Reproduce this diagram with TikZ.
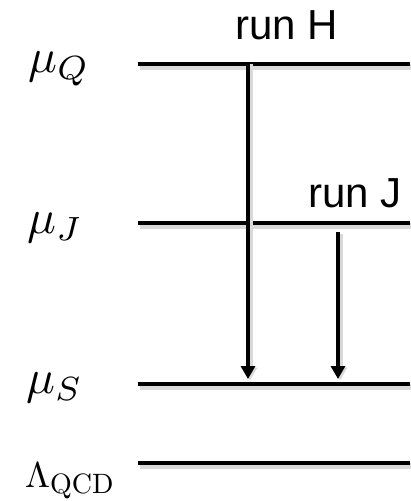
\RequirePackage{fix-cm}
\documentclass[tikz,border=0pt]{standalone}
\usepackage{graphicx}
\usepackage{fontspec}
\newfontfamily\runfont{Liberation Sans}
\usetikzlibrary{arrows.meta}
\begin{document}
\begin{tikzpicture}[x=1pt,y=-1pt,
  level/.style={line width=4.5pt,
    preaction={draw=black!15, line width=6pt, transform canvas={shift={(1.5pt,-2.5pt)}}}},
  runarrow/.style={line width=4.5pt, -{Triangle[width=14pt,length=13pt]},
    preaction={draw=black!15, line width=6pt, transform canvas={shift={(2pt,-1.5pt)}}}},
  mulbl/.style={anchor=base west, inner sep=0pt},
  runlbl/.style={anchor=base west, inner sep=0pt, font=\runfont\fontsize{42}{50}\selectfont}]
\useasboundingbox (0,0) rectangle (410,501);
% level lines
\coordinate (Ql) at (138,64);  \coordinate (Qr) at (410,64);
\coordinate (Jl) at (138,223); \coordinate (Jr) at (410,223);
\coordinate (Sl) at (138,384); \coordinate (Sr) at (410,384);
\coordinate (Ll) at (138,463); \coordinate (Lr) at (410,463);
\draw[level] (Ql) -- (Qr);
\draw[level] (Jl) -- (Jr);
\draw[level] (Sl) -- (Sr);
\draw[level] (Ll) -- (Lr);
% arrows
\coordinate (Hs) at (248,62); \coordinate (He) at (248,379);
\coordinate (Js) at (338,232); \coordinate (Je) at (338,379);
\draw[runarrow] (Hs) -- (He);
\draw[runarrow] (Js) -- (Je);
% labels
\node[mulbl] (muQ) at (28,72) {\scalebox{4.8}{$\mu_Q$}};
\node[mulbl] (muJ) at (27,233) {\scalebox{4.8}{$\mu_J$}};
\node[mulbl] (muS) at (26,393) {\scalebox{4.8}{$\mu_S$}};
\node[mulbl] (lam) at (25,487) {\scalebox{3.6}{$\Lambda$}\raisebox{-6pt}{\scalebox{2.8}{$\mathrm{QCD}$}}};
\node[runlbl] (runH) at (235,39) {run H};
\node[runlbl] (runJ) at (308,207) {run J};
\end{tikzpicture}
\end{document}
